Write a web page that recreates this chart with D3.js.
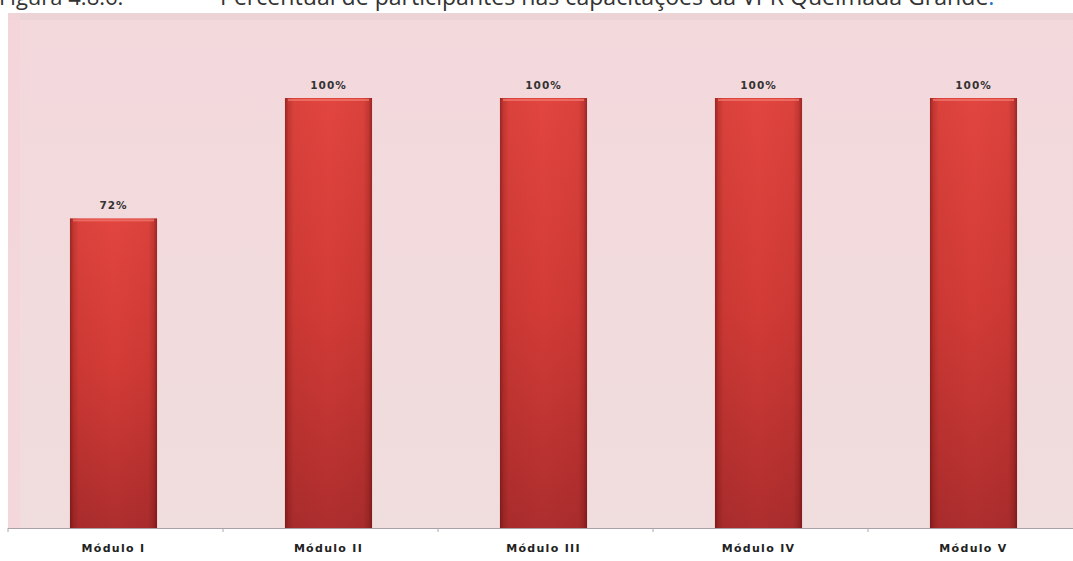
<!DOCTYPE html>
<html><head><meta charset="utf-8">
<script src="https://cdn.jsdelivr.net/npm/d3@7"></script>
<style>body{margin:0;background:#fff;}svg{display:block;}</style>
</head><body>
<script>
const categories = ["Módulo I","Módulo II","Módulo III","Módulo IV","Módulo V"];
const values = [72,100,100,100,100];
const valueLabels = ["72%","100%","100%","100%","100%"];
const titleNum = "Figura 4.8.6.";
const titleText = "Percentual de participantes nas capacitações da VPR Queimada Grande";

const W=1073,H=561;
const svg=d3.select("body").append("svg").attr("width",W).attr("height",H);
const defs=svg.append("defs");
const vg=defs.append("linearGradient").attr("id","vg").attr("x1",0).attr("y1",0).attr("x2",0).attr("y2",1);
vg.append("stop").attr("offset","0%").attr("stop-color","#e2453f");
vg.append("stop").attr("offset","50%").attr("stop-color","#d23b36");
vg.append("stop").attr("offset","100%").attr("stop-color","#ad2e2e");
const hg=defs.append("linearGradient").attr("id","hg").attr("x1",0).attr("y1",0).attr("x2",1).attr("y2",0);
[[0,0.45],[0.04,0.2],[0.1,0.05],[0.5,0],[0.9,0.05],[0.96,0.2],[1,0.45]].forEach(([o,a])=>
  hg.append("stop").attr("offset",o*100+"%").attr("stop-color","#400").attr("stop-opacity",a));
const bg=defs.append("linearGradient").attr("id","bg").attr("x1",0).attr("y1",0).attr("x2",0).attr("y2",1);
bg.append("stop").attr("offset","0%").attr("stop-color","#f3d8dc");
bg.append("stop").attr("offset","100%").attr("stop-color","#f0dddd");

const x0=6,x1=1081,yTop=98,yBase=528;
const x=d3.scaleBand().domain(categories).range([x0,x1]).paddingInner(0.595).paddingOuter(0.2975);
const y=d3.scaleLinear().domain([0,100]).range([yBase,yTop]);

// title
svg.append("text").attr("x",-1).attr("y",5).attr("font-family","Open Sans").attr("font-size",22).attr("fill","#333").text(titleNum);
const t=svg.append("text").attr("x",220).attr("y",5).attr("font-family","Open Sans").attr("font-size",23.1).attr("fill","#333");
t.append("tspan").text(titleText);
t.append("tspan").attr("fill","#1e78c8").text(".");

// plot background
svg.append("rect").attr("x",8).attr("y",13).attr("width",W-8).attr("height",yBase-13).attr("fill","url(#bg)");
svg.append("rect").attr("x",8).attr("y",13).attr("width",W-8).attr("height",7).attr("fill","#e8d2d2").attr("opacity",0.6);
svg.append("rect").attr("x",8).attr("y",13).attr("width",12).attr("height",yBase-13).attr("fill","#f5d3d8").attr("opacity",0.6);

// bars
const g=svg.append("g");
categories.forEach((c,i)=>{
  const bx=x(c),bw=x.bandwidth(),by=y(values[i]),bh=yBase-y(values[i]);
  g.append("rect").attr("x",bx).attr("y",by).attr("width",bw).attr("height",bh).attr("fill","url(#vg)");
  g.append("rect").attr("x",bx).attr("y",by).attr("width",bw).attr("height",bh).attr("fill","url(#hg)");
  g.append("rect").attr("x",bx+3).attr("y",by+1).attr("width",bw-6).attr("height",2).attr("fill","#f27a70").attr("opacity",0.7);
  svg.append("text").attr("x",bx+bw/2).attr("y",by-9).attr("text-anchor","middle")
    .attr("font-family","DejaVu Sans").attr("font-weight","bold").attr("font-size",10.5).attr("letter-spacing","1").attr("fill","#333").text(valueLabels[i]);
});

// axis
const axis=d3.axisBottom(x).tickSize(0).tickPadding(16);
const ag=svg.append("g").attr("transform",`translate(0,${yBase})`).call(axis);
ag.select(".domain").attr("stroke","#a9a0a8").attr("d",`M8,0.5H${W}`);
ag.selectAll("text").attr("font-family","DejaVu Sans").attr("font-weight","bold").attr("font-size",11).attr("fill","#222").attr("letter-spacing","1.3");
// band boundary ticks
const bounds=d3.range(categories.length).map(i=>x0+i*x.step());
svg.append("g").selectAll("line").data(bounds).join("line")
  .attr("x1",d=>d+2).attr("x2",d=>d+2).attr("y1",yBase).attr("y2",yBase+4).attr("stroke","#aaa");
</script>
</body></html>
